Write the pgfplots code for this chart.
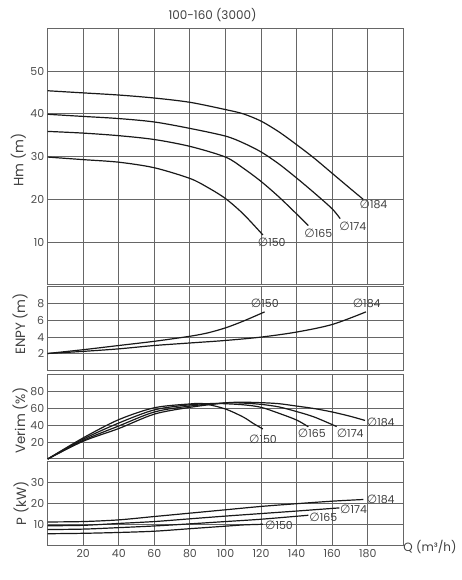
\documentclass[border=0pt]{standalone}
\usepackage{pgfplots}
\pgfplotsset{compat=1.18}
\usepackage{fontspec}
\setmainfont{Poppins}
\newfontfamily\djvfont{DejaVu Sans}
\newcommand{\tks}{\fontsize{11}{12}\selectfont}
\newcommand{\lbs}{\fontsize{13.5}{15}\selectfont}
\newcommand{\cl}[1]{{\fontsize{11}{12}\selectfont{\djvfont\fontsize{12}{12}\selectfont ∅}#1}}
\tikzset{lab/.style={anchor=west, inner sep=0pt, text=black!75}}
\begin{document}
\begin{tikzpicture}[x=1bp,y=1bp]
\useasboundingbox (0,0) rectangle (462,580);
\pgfplotsset{
 panel/.style={scale only axis, width=355.6bp, xmin=0, xmax=200,
  xtick={20,40,...,180}, grid=major,
  major grid style={black!60, line width=0.9bp},
  axis line style={black!60, line width=1bp},
  major tick length=0pt,
  tick label style={font=\tks, text=black!70},
  /pgf/number format/assume math mode=true,
  clip=false, anchor=south west,
  every axis plot post/.append style={black!90, solid, line width=1.2bp, smooth, mark=none},
 },
}
% ---------- Hm ----------
\begin{axis}[panel, at={(47.7bp,295bp)}, height=256.7bp, ymin=0, ymax=60,
  ytick={10,20,...,50}, xticklabels={}]
\addplot coordinates {(0,45.4)(20,44.9)(40,44.4)(60,43.7)(80,42.7)(100,41.0)(110,40.0)(120,38.3)(130,35.8)(140,32.8)(150,29.6)(160,26.1)(170,22.6)(177.5,20.0)};
\addplot coordinates {(0,39.9)(20,39.4)(40,38.9)(60,38.1)(80,36.6)(100,34.8)(110,33.2)(120,31.1)(130,28.3)(140,25.0)(150,21.5)(160,17.8)(164.5,15.5)};
\addplot coordinates {(0,35.9)(20,35.5)(40,34.9)(60,34.0)(80,32.4)(100,29.9)(110,27.3)(120,24.2)(130,20.6)(140,16.6)(146.6,13.9)};
\addplot coordinates {(0,29.9)(20,29.3)(40,28.7)(60,27.4)(80,24.9)(90,22.8)(100,20.2)(110,16.6)(121,11.7)};
\node[lab] at (axis cs:175.3,18.8) {\cl{184}};
\node[lab] at (axis cs:164,13.6) {\cl{174}};
\node[lab] at (axis cs:144.3,12.0) {\cl{165}};
\node[lab] at (axis cs:118.1,9.9) {\cl{150}};
\end{axis}
% ---------- ENPY ----------
\begin{axis}[panel, at={(47.7bp,209.3bp)}, height=84bp, ymin=0, ymax=10,
  ytick={2,4,6,8}, xticklabels={}]
\addplot coordinates {(0,2.05)(20,2.5)(40,3.0)(60,3.5)(80,4.1)(90,4.5)(100,5.1)(110,5.9)(122,7.0)};
\addplot coordinates {(0,2.05)(20,2.3)(40,2.6)(60,3.0)(80,3.3)(100,3.6)(120,4.0)(140,4.6)(160,5.5)(179,7.0)};
\node[lab] at (axis cs:114.2,8.0) {\cl{150}};
\node[lab] at (axis cs:171.5,8.0) {\cl{184}};
\end{axis}
% ---------- Verim ----------
\begin{axis}[panel, at={(47.7bp,121bp)}, height=84.7bp, ymin=0, ymax=100,
  ytick={20,40,60,80}, xticklabels={}]
\addplot coordinates {(0,0)(20,25)(40,46.5)(60,60.5)(80,65)(88,65.2)(100,59)(110,49.5)(115.6,42)(121,35.5)};
\addplot coordinates {(0,0)(20,23.5)(40,42.5)(60,58)(80,64)(95,65.5)(110,64)(120,61)(130,54)(140,46)(146.6,38)};
\addplot coordinates {(0,0)(20,22)(40,39)(60,55.5)(80,62.5)(100,66.2)(110,66)(120,64.5)(130,61.5)(140,56)(150,49.5)(162.5,38.3)};
\addplot coordinates {(0,0)(20,21)(40,36)(60,53)(80,61)(100,66.3)(110,67)(120,66.5)(130,65.3)(140,62.5)(150,59.5)(160,55.5)(170,50.5)(178.5,45.5)};
\node[lab] at (axis cs:113.2,23.4) {\cl{150}};
\node[lab] at (axis cs:140.6,30) {\cl{165}};
\node[lab] at (axis cs:162.5,30) {\cl{174}};
\node[lab] at (axis cs:179.4,43.5) {\cl{184}};
\end{axis}
% ---------- P ----------
\begin{axis}[panel, at={(47.7bp,34.3bp)}, height=84bp, ymin=0, ymax=40,
  ytick={10,20,30}]
\addplot coordinates {(0,11.3)(20,11.5)(40,12.3)(60,13.9)(80,15.5)(100,17.1)(120,18.7)(140,20.0)(160,21.2)(177.5,22.0)};
\addplot coordinates {(0,9.5)(20,9.7)(40,10.6)(60,11.5)(80,12.8)(100,14.1)(120,15.3)(140,16.5)(164,18.0)};
\addplot coordinates {(0,7.7)(20,7.9)(40,8.6)(60,9.4)(80,10.4)(100,11.5)(120,12.6)(146.6,14.5)};
\addplot coordinates {(0,5.7)(20,5.9)(40,6.3)(60,6.9)(80,8.1)(100,9.3)(110,9.9)(121,10.2)};
\node[lab] at (axis cs:179.4,22.1) {\cl{184}};
\node[lab] at (axis cs:164.4,17.3) {\cl{174}};
\node[lab] at (axis cs:147.1,13.4) {\cl{165}};
\node[lab] at (axis cs:122.2,9.7) {\cl{150}};
\end{axis}
% ---------- texts ----------
\node[font=\fontsize{12}{13}\selectfont, text=black!75] at (212.5,565) {100-160 (3000)};
\node[font=\lbs, text=black!75, rotate=90] at (18.3,420) {Hm (m)};
\node[font=\lbs, text=black!75, rotate=90] at (20,256) {ENPY (m)};
\node[font=\lbs, text=black!75, rotate=90] at (20,159.3) {Verim (\%)};
\node[font=\lbs, text=black!75, rotate=90] at (21,76.7) {P (kW)};
\node[font=\fontsize{12}{13}\selectfont, text=black!75] at (430,33) {Q (m³/h)};
\end{tikzpicture}
\end{document}
